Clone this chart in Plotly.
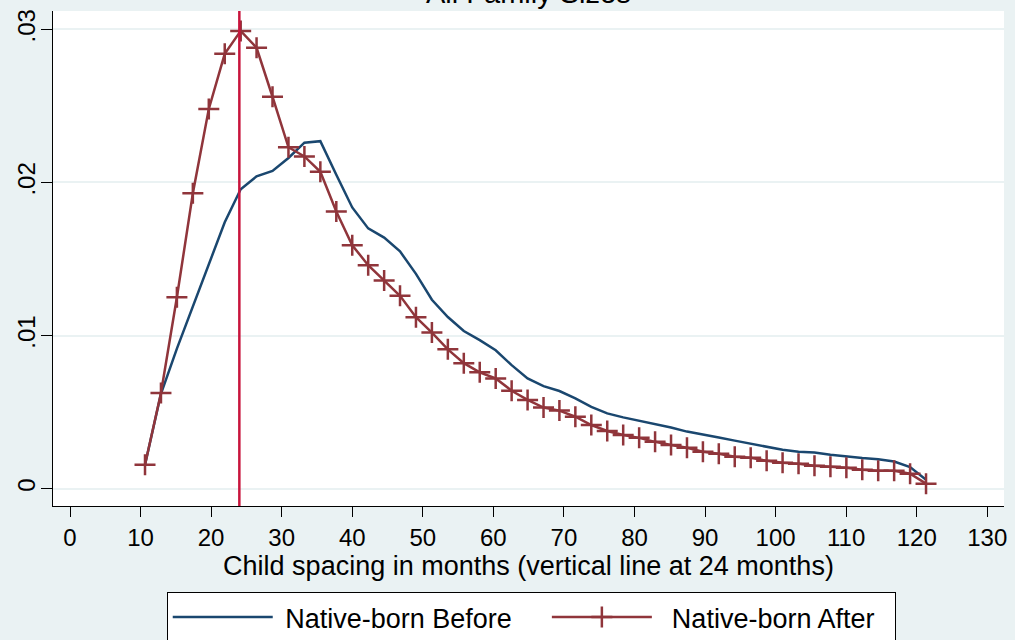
import plotly.graph_objects as go

months = [10.63, 12.89, 15.15, 17.41, 19.67, 21.93, 24.19, 26.44, 28.70, 30.96,
          33.22, 35.48, 37.74, 40.00, 42.26, 44.52, 46.77, 49.03, 51.29, 53.55,
          55.81, 58.07, 60.33, 62.59, 64.85, 67.11, 69.36, 71.62, 73.88, 76.14,
          78.40, 80.66, 82.92, 85.18, 87.44, 89.70, 91.95, 94.21, 96.47, 98.73,
          100.99, 103.25, 105.51, 107.77, 110.03, 112.28, 114.54, 116.80, 119.06, 121.32]

before = [0.00156, 0.0062, 0.00915, 0.0119, 0.01464, 0.0174, 0.01956, 0.0204, 0.02075, 0.0216,
          0.0226, 0.0227, 0.0205, 0.01837, 0.0170, 0.0164, 0.0155, 0.01403, 0.01234, 0.01121,
          0.0103, 0.0097, 0.00904, 0.00807, 0.0072, 0.0067, 0.00638, 0.0059, 0.00534, 0.00492,
          0.00466, 0.00445, 0.00423, 0.0040, 0.00373, 0.00351, 0.00334, 0.00314, 0.00293, 0.00275,
          0.00254, 0.00241, 0.00236, 0.00221, 0.0021, 0.0020, 0.00193, 0.00178, 0.00141, 0.00059]

after = [0.00156, 0.00625, 0.0125, 0.0193, 0.0248, 0.0284, 0.0299, 0.0288, 0.0256, 0.0223,
         0.0217, 0.0207, 0.0181, 0.0159, 0.0146, 0.0136, 0.0126, 0.0112, 0.0102, 0.0091,
         0.0082, 0.0076, 0.0072, 0.0064, 0.0058, 0.0053, 0.0051, 0.0047, 0.00416, 0.00377,
         0.00351, 0.00332, 0.00306, 0.00286, 0.00267, 0.00241, 0.00228, 0.00208, 0.00202, 0.00182,
         0.00169, 0.00163, 0.0015, 0.00143, 0.00137, 0.00124, 0.00117, 0.00117, 0.00098, 0.00033]

x_ticks = [0, 10, 20, 30, 40, 50, 60, 70, 80, 90, 100, 110, 120, 130]
y_ticks = [0, 0.01, 0.02, 0.03]
y_tick_labels = ["0", ".01", ".02", ".03"]
vline_at = 24

title_text = "All Family Sizes"
x_title = "Child spacing in months (vertical line at 24 months)"
names = ["Native-born Before", "Native-born After"]

BG = "#EAF2F3"
BLUE = "#1A476F"
RED = "#90353B"
VCOL = "#C8143C"
FONT = "Liberation Sans, Arial, sans-serif"
NB = "\u00a0"

fig = go.Figure()
fig.add_trace(go.Scatter(x=months, y=before, mode="lines", name=NB + names[0] + NB * 4,
                         line=dict(color=BLUE, width=2.5)))
fig.add_trace(go.Scatter(x=months, y=after, mode="lines+markers", name=NB * 2 + names[1] + NB * 2,
                         line=dict(color=RED, width=2.5),
                         marker=dict(symbol="cross-thin", size=15,
                                     line=dict(color=RED, width=2.5), color=RED)))

fig.add_shape(type="line", xref="x", yref="paper", x0=vline_at, x1=vline_at, y0=0, y1=1,
              line=dict(color=VCOL, width=2.5), layer="above")

fig.add_annotation(text=title_text, xref="paper", yref="paper", x=0.5, y=1,
                   xanchor="center", yanchor="bottom", yshift=0, showarrow=False,
                   font=dict(family=FONT, size=29, color="black"))

fig.update_layout(
    width=1015, height=640,
    paper_bgcolor=BG, plot_bgcolor="white",
    margin=dict(l=53, r=11, t=11, b=134, autoexpand=False),
    font=dict(family=FONT, color="black"),
    showlegend=True,
    legend=dict(orientation="h", x=0.1196, xanchor="left", y=-0.1737, yanchor="top",
                bgcolor="white", bordercolor="black", borderwidth=1,
                font=dict(family=FONT, size=27, color="black"),
                itemwidth=100),
    xaxis=dict(range=[-2.41, 132.37], tickvals=x_ticks, ticks="outside", ticklen=10,
               tickcolor="black", tickwidth=1.2, showline=True, linecolor="black", linewidth=1.2,
               showgrid=False, zeroline=False, automargin=False,
               tickfont=dict(family=FONT, size=24, color="black"),
               title=dict(text=x_title, font=dict(family=FONT, size=27, color="black"), standoff=0)),
    yaxis=dict(range=[-0.00113, 0.0312], tickvals=y_ticks, ticktext=y_tick_labels,
               tickangle=-90, ticks="outside", ticklen=11, tickcolor="black", tickwidth=1.2,
               showline=True, linecolor="black", linewidth=1.2, automargin=False,
               ticklabelstandoff=-4,
               showgrid=True, gridcolor=BG, gridwidth=2, zeroline=False,
               tickfont=dict(family=FONT, size=24, color="black")),
)

fig.write_html("out.html", config={"displayModeBar": False},
               post_script="document.body.style.margin='0px';document.body.style.overflow='hidden';")
